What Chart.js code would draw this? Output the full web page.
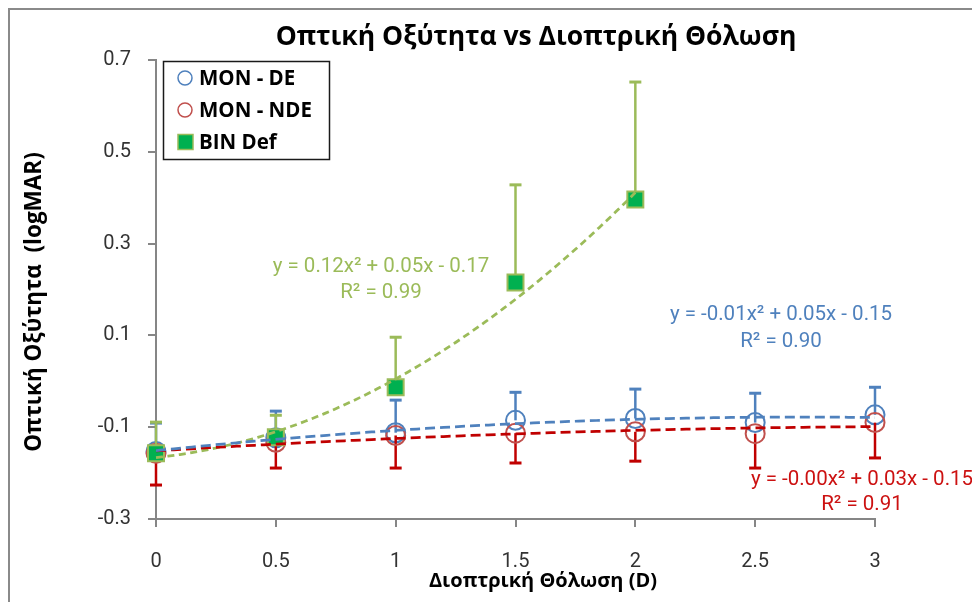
<!DOCTYPE html>
<html>
<head>
<meta charset="utf-8">
<script src="https://cdn.jsdelivr.net/npm/chart.js@4.4.1/dist/chart.umd.min.js"></script>
<style>
  html, body { margin: 0; padding: 0; background: #ffffff; }
  canvas { display: block; }
</style>
</head>
<body>
<canvas id="chart" width="972" height="602"></canvas>
<script>
// Dioptric blur levels (D)
const blurLevels = [0, 0.5, 1, 1.5, 2, 2.5, 3];
const binBlurLevels = [0, 0.5, 1, 1.5, 2];

// Mean visual acuity (logMAR)
const monDE  = [-0.153, -0.123, -0.112, -0.085, -0.081, -0.090, -0.073];
const monNDE = [-0.157, -0.133, -0.118, -0.113, -0.110, -0.114, -0.090];
const binDef = [-0.157, -0.122, -0.013, 0.215, 0.396];

// One-sided error bars
const monDEErrUp    = [0.062, 0.058, 0.071, 0.061, 0.064, 0.064, 0.060];
const monNDEErrDown = [0.069, 0.056, 0.071, 0.065, 0.064, 0.075, 0.077];
const binDefErrUp   = [0.068, 0.048, 0.109, 0.213, 0.256];

const seriesNames = ['MON - DE', 'MON - NDE', 'BIN Def'];

// Axis ticks
const xTicks = [0, 0.5, 1, 1.5, 2, 2.5, 3];
const xTickLabels = ['0', '0.5', '1', '1.5', '2', '2.5', '3'];
const yTicks = [-0.3, -0.1, 0.1, 0.3, 0.5, 0.7];
const yTickLabels = ['-0.3', '-0.1', '0.1', '0.3', '0.5', '0.7'];

// Texts
const chartTitle = 'Οπτική Οξύτητα vs Διοπτρική Θόλωση';
const xTitle = 'Διοπτρική Θόλωση (D)';
const yTitle = 'Οπτική Οξύτητα  (logMAR)';
const trendTexts = [
  ['y = -0.01x² + 0.05x - 0.15', 'R² = 0.90'],
  ['y = -0.00x² + 0.03x - 0.15', 'R² = 0.91'],
  ['y = 0.12x² + 0.05x - 0.17', 'R² = 0.99']
];

const BLUE = '#4F81BD', RED = '#C0504D', DARK_RED = '#C00000',
      GREEN = '#00B050', LIGHT_GREEN = '#9BBB59', AXIS = '#868686';

// Least-squares quadratic regression: returns [c, b, a] for a*x^2 + b*x + c
function quadFit(xs, ys) {
  const S = [0, 0, 0, 0, 0], T = [0, 0, 0];
  xs.forEach((x, i) => {
    let p = 1;
    for (let k = 0; k < 5; k++) { S[k] += p; if (k < 3) T[k] += p * ys[i]; p *= x; }
  });
  const M = [[S[0], S[1], S[2], T[0]], [S[1], S[2], S[3], T[1]], [S[2], S[3], S[4], T[2]]];
  for (let i = 0; i < 3; i++)
    for (let j = i + 1; j < 3; j++) {
      const f = M[j][i] / M[i][i];
      for (let k = i; k < 4; k++) M[j][k] -= f * M[i][k];
    }
  const r = [0, 0, 0];
  for (let i = 2; i >= 0; i--) {
    let s = M[i][3];
    for (let k = i + 1; k < 3; k++) s -= M[i][k] * r[k];
    r[i] = s / M[i][i];
  }
  return r;
}

// Sampled fitted curve over the range of the series
function trendCurve(xs, ys) {
  const [c, b, a] = quadFit(xs, ys);
  const x0 = xs[0], x1 = xs[xs.length - 1], n = 80, pts = [];
  for (let i = 0; i <= n; i++) {
    const x = x0 + (x1 - x0) * i / n;
    pts.push({ x, y: a * x * x + b * x + c });
  }
  return pts;
}

const toPoints = (xs, ys) => xs.map((x, i) => ({ x, y: ys[i] }));

// Error bars drawn beneath each series' markers
const errorBarPlugin = {
  id: 'errorBars',
  beforeDatasetDraw(chart, args) {
    const ds = chart.data.datasets[args.index];
    if (!ds.errUp && !ds.errDown) return;
    const { ctx, scales: { x, y } } = chart;
    ctx.save();
    ctx.strokeStyle = ds.errColor;
    ds.data.forEach((p, i) => {
      const px = x.getPixelForValue(p.x), py = y.getPixelForValue(p.y);
      const ends = [];
      if (ds.errUp) ends.push(y.getPixelForValue(p.y + ds.errUp[i]));
      if (ds.errDown) ends.push(y.getPixelForValue(p.y - ds.errDown[i]));
      ends.forEach(ey => {
        ctx.lineWidth = 2.5;
        ctx.beginPath();
        ctx.moveTo(px, py); ctx.lineTo(px, ey);
        ctx.stroke();
        ctx.lineWidth = 3;
        ctx.beginPath();
        ctx.moveTo(px - 6, ey); ctx.lineTo(px + 6, ey);
        ctx.stroke();
      });
    });
    ctx.restore();
  }
};

// Titles, frame, equation labels and legend
const decorPlugin = {
  id: 'decor',
  beforeDraw(chart) {
    const { ctx } = chart;
    ctx.save();
    ctx.fillStyle = '#ffffff';
    ctx.fillRect(0, 0, chart.width, chart.height);
    ctx.strokeStyle = '#8a8a8a';
    ctx.lineWidth = 2;
    ctx.strokeRect(9, 9, 1200, 1200);
    ctx.restore();
  },
  afterDraw(chart) {
    const { ctx } = chart;
    ctx.save();
    ctx.fillStyle = '#000000';
    ctx.textAlign = 'center';
    ctx.textBaseline = 'middle';
    ctx.font = 'bold 26.5px "Open Sans"';
    ctx.fillText(chartTitle, 536, 37);

    ctx.font = 'bold 20px "Open Sans"';
    ctx.fillText(xTitle, 543, 581);

    ctx.save();
    ctx.translate(35, 302);
    ctx.rotate(-Math.PI / 2);
    ctx.font = 'bold 22.5px "Open Sans"';
    ctx.fillText(yTitle, 0, 0);
    ctx.restore();

    // Equation labels
    const labelSpots = [
      { x: 781, y1: 315, y2: 342, color: BLUE },
      { x: 862, y1: 480, y2: 505, color: '#CC1111' },
      { x: 381, y1: 267, y2: 293, color: LIGHT_GREEN }
    ];
    ctx.font = '20.5px Roboto';
    trendTexts.forEach((t, i) => {
      const s = labelSpots[i];
      ctx.fillStyle = s.color;
      ctx.fillText(t[0], s.x, s.y1);
      ctx.fillText(t[1], s.x, s.y2);
    });

    // Legend
    ctx.strokeStyle = '#1a1a1a';
    ctx.lineWidth = 1.5;
    ctx.strokeRect(163.5, 61.5, 166, 98);
    const rows = [78, 110, 142];
    ctx.textAlign = 'left';
    ctx.font = 'bold 20.5px "Open Sans"';
    seriesNames.forEach((name, i) => {
      const ds = chart.data.datasets[i];
      const cy = rows[i];
      ctx.lineWidth = 1.5;
      if (ds.pointStyle === 'rect') {
        ctx.fillStyle = ds.backgroundColor;
        ctx.fillRect(178, cy - 7.5, 15, 15);
        ctx.strokeStyle = ds.borderColor;
        ctx.strokeRect(178, cy - 7.5, 15, 15);
      } else {
        ctx.strokeStyle = ds.borderColor;
        ctx.beginPath();
        ctx.arc(185, cy, 7, 0, Math.PI * 2);
        ctx.stroke();
      }
      ctx.fillStyle = '#000000';
      ctx.fillText(name, 199, cy + 1);
    });
    ctx.restore();
  }
};

const trendStyle = (data, color, dash) => ({
  data, showLine: true, pointRadius: 0, borderColor: color, borderWidth: 2.75,
  borderDash: dash, backgroundColor: color, fill: false, tension: 0, order: 0, clip: false
});

new Chart(document.getElementById('chart'), {
  type: 'scatter',
  data: {
    datasets: [
      {
        label: seriesNames[0], data: toPoints(blurLevels, monDE),
        pointStyle: 'circle', pointRadius: 9.5, borderWidth: 2,
        borderColor: BLUE, backgroundColor: 'rgba(0,0,0,0)',
        errUp: monDEErrUp, errColor: BLUE, order: 3, clip: false
      },
      {
        label: seriesNames[1], data: toPoints(blurLevels, monNDE),
        pointStyle: 'circle', pointRadius: 9.5, borderWidth: 2,
        borderColor: RED, backgroundColor: 'rgba(0,0,0,0)',
        errDown: monNDEErrDown, errColor: DARK_RED, order: 2, clip: false
      },
      {
        label: seriesNames[2], data: toPoints(binBlurLevels, binDef),
        pointStyle: 'rect', pointRadius: 11.3, borderWidth: 2,
        borderColor: LIGHT_GREEN, backgroundColor: GREEN,
        errUp: binDefErrUp, errColor: LIGHT_GREEN, order: 1, clip: false
      },
      trendStyle(trendCurve(blurLevels, monDE), BLUE, [10, 5]),
      trendStyle(trendCurve(blurLevels, monNDE), DARK_RED, [10, 5]),
      trendStyle(trendCurve(binBlurLevels, binDef), LIGHT_GREEN, [7, 4.5])
    ]
  },
  options: {
    responsive: false,
    animation: false,
    events: [],
    layout: { padding: { left: 0, top: 60, right: 97, bottom: 0 } },
    plugins: { legend: { display: false }, tooltip: { enabled: false }, title: { display: false } },
    scales: {
      x: {
        type: 'linear', min: 0, max: 3,
        afterFit: s => { s.height = 83; },
        afterBuildTicks: s => { s.ticks = xTicks.map(v => ({ value: v })); },
        ticks: {
          callback: (v, i) => xTickLabels[i],
          font: { family: 'Roboto', size: 20 }, color: '#333333', padding: 23, maxRotation: 0
        },
        grid: { drawOnChartArea: false, drawTicks: true, tickLength: 8, color: AXIS, lineWidth: 2 },
        border: { color: AXIS, width: 2 }
      },
      y: {
        type: 'linear', min: -0.3, max: 0.7,
        afterFit: s => { s.width = 156; },
        afterBuildTicks: s => { s.ticks = yTicks.map(v => ({ value: v })); },
        ticks: {
          callback: (v, i) => yTickLabels[i],
          font: { family: 'Roboto', size: 20 }, color: '#333333', padding: 17
        },
        grid: { drawOnChartArea: false, drawTicks: true, tickLength: 8, color: AXIS, lineWidth: 2 },
        border: { color: AXIS, width: 2 }
      }
    }
  },
  plugins: [errorBarPlugin, decorPlugin]
});
</script>
</body>
</html>
